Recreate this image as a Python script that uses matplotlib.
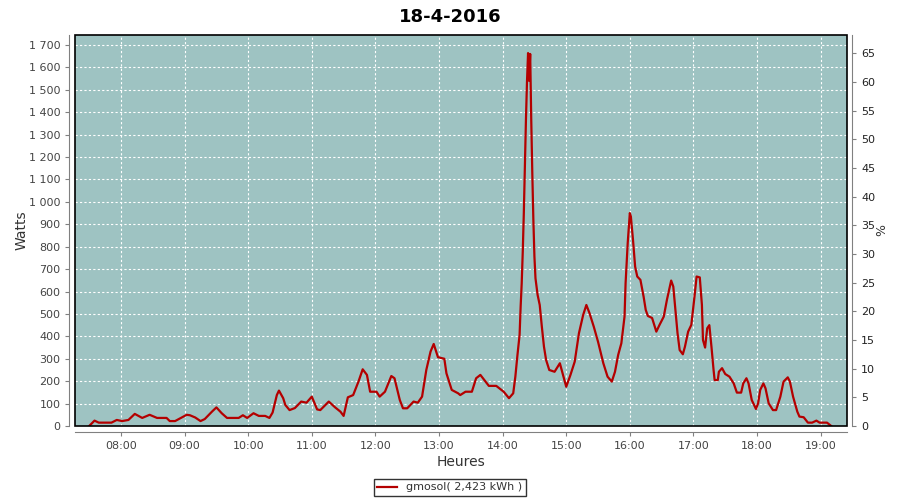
import matplotlib
matplotlib.use("Agg")
from matplotlib import pyplot as plt
from matplotlib.patches import Rectangle
from matplotlib.ticker import FuncFormatter, MultipleLocator
import numpy as np

# production du 18-4-2016
times = ["07:30", "07:35", "07:39", "07:51", "07:56", "08:01", "08:07", "08:13", "08:20", "08:27",
         "08:34", "08:43", "08:46", "08:51", "09:02", "09:05", "09:10", "09:15", "09:19", "09:26",
         "09:30", "09:35", "09:40", "09:51", "09:55", "09:59", "10:05", "10:10", "10:16", "10:20",
         "10:23", "10:27", "10:29", "10:33", "10:35", "10:39", "10:44", "10:50", "10:55", "11:00",
         "11:05", "11:08", "11:16", "11:22", "11:27", "11:30", "11:34", "11:39", "11:44", "11:48",
         "11:52", "11:55", "12:01", "12:04", "12:09", "12:15", "12:18", "12:23", "12:26", "12:30",
         "12:36", "12:40", "12:44", "12:48", "12:52", "12:55", "12:59", "13:05", "13:07", "13:12",
         "13:18", "13:20", "13:25", "13:31", "13:35", "13:39", "13:47", "13:54", "14:01", "14:06",
         "14:10", "14:12", "14:14", "14:16", "14:17", "14:18", "14:19", "14:20", "14:21", "14:22",
         "14:23", "14:24", "14:25", "14:26", "14:27", "14:28", "14:29", "14:30", "14:31", "14:33",
         "14:35", "14:37", "14:39", "14:41", "14:44", "14:49", "14:54", "14:57", "15:00", "15:04",
         "15:08", "15:12", "15:16", "15:19", "15:22", "15:26", "15:30", "15:35", "15:39", "15:43",
         "15:46", "15:49", "15:52", "15:55", "15:56", "15:58", "16:00", "16:01", "16:03", "16:05",
         "16:07", "16:10", "16:13", "16:15", "16:17", "16:21", "16:25", "16:28", "16:32", "16:35",
         "16:39", "16:41", "16:43", "16:45", "16:47", "16:50", "16:52", "16:55", "16:58", "17:01",
         "17:03", "17:06", "17:08", "17:09", "17:11", "17:13", "17:15", "17:17", "17:19", "17:20",
         "17:23", "17:24", "17:27", "17:30", "17:34", "17:38", "17:41", "17:45", "17:47", "17:50",
         "17:52", "17:55", "17:59", "18:01", "18:03", "18:06", "18:08", "18:11", "18:15", "18:18",
         "18:22", "18:25", "18:29", "18:31", "18:34", "18:38", "18:40", "18:44", "18:48", "18:52",
         "18:56", "18:59", "19:06", "19:09", "19:10"]
watts = [0, 24, 15, 15, 27, 22, 27, 54, 36, 50,
         36, 36, 22, 22, 50, 48, 38, 22, 31, 65,
         83, 57, 36, 36, 48, 36, 57, 45, 45, 36,
         60, 138, 158, 124, 94, 71, 80, 109, 104, 131,
         74, 71, 109, 83, 64, 45, 128, 138, 198, 253,
         228, 153, 153, 131, 153, 223, 213, 116, 79, 79,
         109, 104, 131, 250, 332, 366, 307, 300, 235, 161,
         146, 138, 153, 153, 213, 228, 179, 179, 153, 124,
         146, 220, 317, 406, 533, 637, 778, 950, 1158, 1366,
         1537, 1664, 1540, 1660, 1366, 1128, 920, 756, 659, 585,
         540, 443, 354, 295, 250, 242, 280, 228, 175, 228,
         287, 414, 496, 540, 503, 443, 376, 280, 220, 198,
         242, 317, 369, 488, 637, 816, 950, 934, 830, 711,
         667, 652, 577, 518, 491, 482, 421, 451, 488, 563,
         649, 622, 518, 414, 339, 320, 354, 421, 451, 577,
         667, 663, 540, 384, 350, 436, 450, 354, 250, 205,
         205, 242, 258, 232, 220, 190, 149, 149, 190, 213,
         190, 116, 76, 101, 161, 190, 168, 101, 71, 71,
         131, 198, 217, 198, 131, 64, 42, 39, 15, 15,
         24, 15, 15, 4, 0]

title = "18-4-2016"
legend_label = "gmosol( 2,423 kWh )"

hours = np.array([int(t[:2]) + int(t[3:]) / 60 for t in times])

fig = plt.figure(figsize=(9, 5), dpi=100)
ax = fig.add_axes([75 / 900, 1 - 426 / 500, 771.5 / 900, 391 / 500])
ax.set_facecolor("#9EC3C2")

ax.plot(hours, watts, color="#B40000", linewidth=1.6, label=legend_label, zorder=3)

ax.set_xlim(436.6 / 60, 1164.4 / 60)
ax.set_ylim(0, 1744.6)
ax.xaxis.set_major_locator(MultipleLocator(1))
ax.xaxis.set_major_formatter(FuncFormatter(lambda v, p: "%02d:00" % round(v)))
ax.yaxis.set_major_locator(MultipleLocator(100))
ax.yaxis.set_major_formatter(FuncFormatter(lambda v, p: "{:,}".format(int(v)).replace(",", " ")))
ax.grid(True, color="white", linestyle=(0, (2, 2)), linewidth=0.8)
ax.set_axisbelow(True)

ax2 = ax.twinx()
ax2.set_ylim(0, 68.2)
ax2.yaxis.set_major_locator(MultipleLocator(5))

grey = "#808080"
for a in (ax, ax2):
    for s in a.spines.values():
        s.set_visible(False)
    a.tick_params(colors=grey, labelcolor="#444444", labelsize=8, length=3, width=0.8)
for side, a in (("left", ax), ("bottom", ax), ("right", ax2)):
    a.spines[side].set_visible(True)
    a.spines[side].set_position(("outward", 4))
    a.spines[side].set_color(grey)
ax2.tick_params(labelcolor="#222222")

ax.add_patch(Rectangle((0, 0), 1, 1, transform=ax.transAxes, fill=False,
                       edgecolor="black", linewidth=1.2, zorder=5, clip_on=False))

ax.set_ylabel("Watts", fontsize=10, color="#333333", labelpad=0)
ax.set_xlabel("Heures", fontsize=10, color="#333333", labelpad=3)
ax2.set_ylabel("%", fontsize=9, color="#333333", labelpad=0)
fig.suptitle(title, fontsize=13, fontweight="bold", y=0.985)

fig.legend(loc="center", bbox_to_anchor=(0.5, 0.025), fontsize=8, frameon=True,
           fancybox=False, edgecolor="black", handlelength=1.8, borderpad=0.35,
           labelcolor="#333333")

plt.savefig("out.png", dpi=100)
